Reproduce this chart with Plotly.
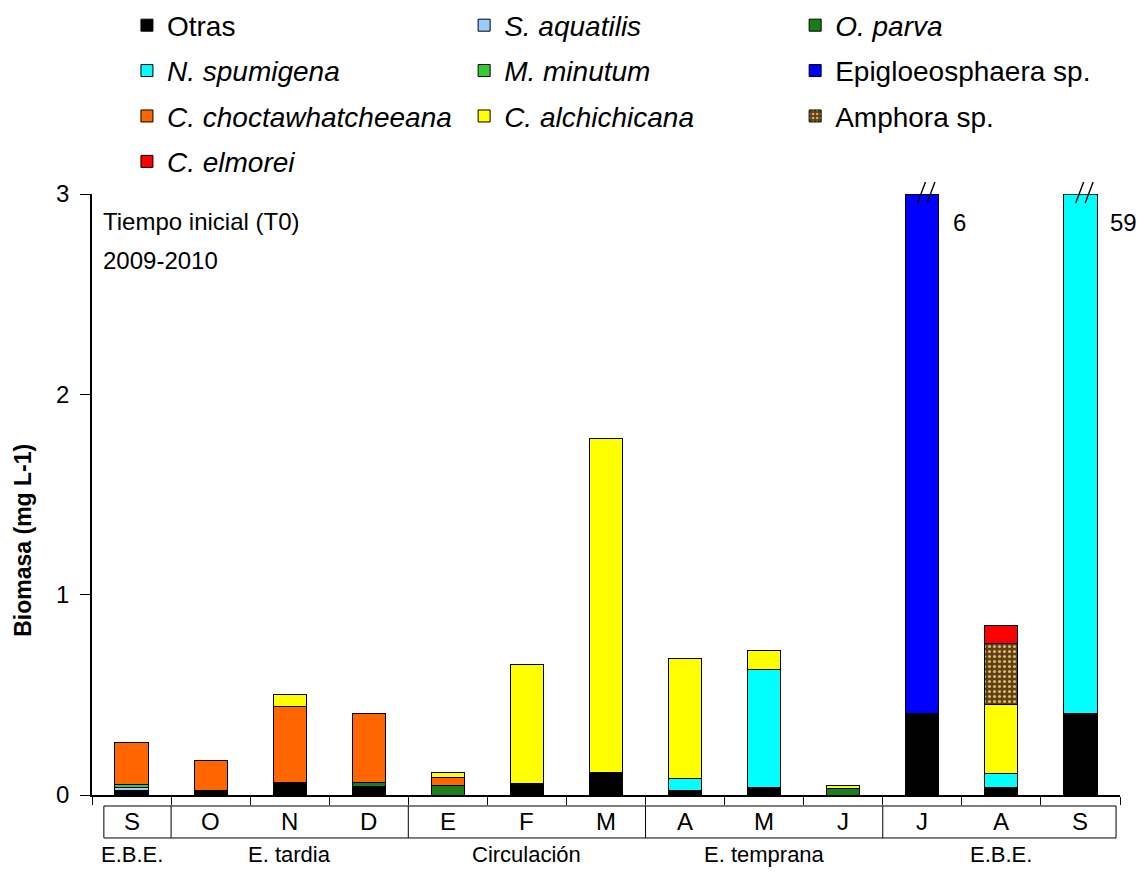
import plotly.graph_objects as go

# ---------------- data ----------------
months = ["S", "O", "N", "D", "E", "F", "M", "A", "M", "J", "J", "A", "S"]
group_names = ["E.B.E.", "E. tardia", "Circulación", "E. temprana", "E.B.E."]
group_start = [0, 1, 4, 7, 10]
group_end = [0, 3, 6, 9, 12]

otras = [0.02, 0.02, 0.06, 0.04, 0.0, 0.055, 0.11, 0.02, 0.035, 0.0, 0.405, 0.035, 0.405]
s_aquatilis = [0.015, 0, 0, 0, 0, 0, 0, 0, 0, 0, 0, 0, 0]
o_parva = [0, 0, 0, 0.02, 0.045, 0, 0, 0, 0, 0.03, 0, 0, 0]
n_spumigena = [0, 0, 0, 0, 0, 0, 0, 0.06, 0.59, 0, 0, 0.07, 58.595]
m_minutum = [0.015, 0, 0, 0, 0, 0, 0, 0, 0, 0, 0, 0, 0]
epigloeosphaera = [0, 0, 0, 0, 0, 0, 0, 0, 0, 0, 5.595, 0, 0]
c_choctawhatcheeana = [0.21, 0.15, 0.38, 0.345, 0.04, 0, 0, 0, 0, 0, 0, 0, 0]
c_alchichicana = [0, 0, 0.06, 0, 0.025, 0.595, 1.67, 0.60, 0.095, 0.015, 0, 0.345, 0]
amphora = [0, 0, 0, 0, 0, 0, 0, 0, 0, 0, 0, 0.305, 0]
c_elmorei = [0, 0, 0, 0, 0, 0, 0, 0, 0, 0, 0, 0.09, 0]

y_max = 3
y_ticks = [0, 1, 2, 3]

# (name, values, color, legend column)
series = [
    ("Otras", otras, "#000000", "legend"),
    ("<i>S. aquatilis</i>", s_aquatilis, "#99ccff", "legend2"),
    ("<i>O. parva</i>", o_parva, "#1a7f1a", "legend3"),
    ("<i>N. spumigena</i>", n_spumigena, "#00ffff", "legend"),
    ("<i>M. minutum</i>", m_minutum, "#33cc33", "legend2"),
    ("Epigloeosphaera sp.", epigloeosphaera, "#0000ff", "legend3"),
    ("<i>C. choctawhatcheeana</i>", c_choctawhatcheeana, "#ff6600", "legend"),
    ("<i>C. alchichicana</i>", c_alchichicana, "#ffff00", "legend2"),
    ("Amphora sp.", amphora, "#5e3f18", "legend3"),
    ("<i>C. elmorei</i>", c_elmorei, "#ff0000", "legend"),
]

FONT = "Liberation Sans, Arial, sans-serif"
x = list(range(len(months)))
n_cat = len(months)
BW = 0.42

fig = go.Figure()
for k, (name, vals, col, leg) in enumerate(series):
    marker = dict(color=col, line=dict(color="#000000", width=1))
    if name.startswith("Amphora"):
        marker["pattern"] = dict(shape=".", fgcolor="#d8b860", bgcolor="#5e3f18",
                                 size=5, solidity=0.3, fillmode="replace")
    fig.add_trace(go.Bar(x=x, y=vals, name=name, marker=marker, width=BW,
                         legend=leg, legendgroup=f"g{k}"))

totals = [sum(s[1][i] for s in series) for i in x]


def xpaper(v):
    return (v + 0.5) / n_cat


shapes = []
annotations = []

# category box below the axis
box_y0, box_y1 = -0.0183, -0.0715
shapes.append(dict(type="rect", xref="x", yref="paper", x0=-0.35, x1=12.45,
                   y0=box_y0, y1=box_y1, line=dict(color="black", width=1)))
for gs in group_start[1:]:
    shapes.append(dict(type="line", xref="x", yref="paper", x0=gs - 0.5, x1=gs - 0.5,
                       y0=box_y0, y1=box_y1, line=dict(color="black", width=1)))
for i, m in enumerate(months):
    annotations.append(dict(x=i, y=(box_y0 + box_y1) / 2, xref="x", yref="paper",
                            text=m, showarrow=False, font=dict(size=24, color="black", family=FONT),
                            xanchor="center", yanchor="middle"))
for gname, a, b in zip(group_names, group_start, group_end):
    annotations.append(dict(x=(a + b) / 2, y=-0.0995, xref="x", yref="paper",
                            text=gname, showarrow=False, font=dict(size=22, color="black", family=FONT),
                            xanchor="center", yanchor="middle"))

# break marks and totals for bars beyond the axis
for i in x:
    if totals[i] > y_max:
        shapes.append(dict(type="line", xref="x", yref="y", x0=i - BW / 2, x1=i + BW / 2,
                           y0=y_max, y1=y_max, line=dict(color="black", width=1.5)))
        for off in (0.0, 0.12):
            shapes.append(dict(type="line", xref="x", yref="paper",
                               x0=i - 0.06 + off, x1=i + 0.04 + off, y0=0.985, y1=1.02,
                               line=dict(color="black", width=1.4)))
        annotations.append(dict(x=xpaper(i + (0.47 if totals[i] < 10 else 0.55)), y=0.952,
                                xref="paper", yref="paper", text=f"{totals[i]:.0f}",
                                showarrow=False, font=dict(size=24, color="black", family=FONT),
                                xanchor="center", yanchor="middle"))

# text in the plot
annotations.append(dict(x=0.009, y=0.955, xref="paper", yref="paper", text="Tiempo inicial (T0)",
                        showarrow=False, xanchor="left", yanchor="middle",
                        font=dict(size=24, color="black", family=FONT)))
annotations.append(dict(x=0.009, y=0.889, xref="paper", yref="paper", text="2009-2010",
                        showarrow=False, xanchor="left", yanchor="middle",
                        font=dict(size=24, color="black", family=FONT)))
# y-axis title
annotations.append(dict(x=-0.0671, y=0.423, xref="paper", yref="paper", text="<b>Biomasa (mg L-1)</b>",
                        textangle=-90, showarrow=False, xanchor="center", yanchor="middle",
                        font=dict(size=23, color="black", family=FONT)))

leg_common = dict(orientation="v", yanchor="top", xanchor="left", traceorder="grouped",
                  tracegroupgap=6, bgcolor="rgba(0,0,0,0)", borderwidth=0,
                  font=dict(size=28, color="black", family=FONT),
                  yref="paper", y=1.322)

fig.update_layout(
    width=1130, height=861,
    margin=dict(l=84, r=18, t=186, b=74, autoexpand=False),
    paper_bgcolor="white", plot_bgcolor="white",
    barmode="stack",
    font=dict(family=FONT, color="black"),
    xaxis=dict(range=[-0.5, 12.5], showline=True, linecolor="black", linewidth=1.5,
               tickmode="array", tickvals=[i - 0.5 for i in range(n_cat + 1)],
               ticktext=[""] * (n_cat + 1), ticks="outside", ticklen=8,
               tickcolor="black", showgrid=False, zeroline=False, fixedrange=True),
    yaxis=dict(range=[0, y_max], showline=True, linecolor="black", linewidth=1.5,
               tickmode="array", tickvals=y_ticks, ticks="outside", ticklen=10,
               tickcolor="black", showgrid=False, zeroline=False,
               tickfont=dict(size=24, color="black", family=FONT), ticklabelstandoff=6),
    legend=dict(x=0.034, **leg_common),
    legend2=dict(x=0.362, **leg_common),
    legend3=dict(x=0.684, **leg_common),
    shapes=shapes,
    annotations=annotations,
)

fig.write_html("out.html")
